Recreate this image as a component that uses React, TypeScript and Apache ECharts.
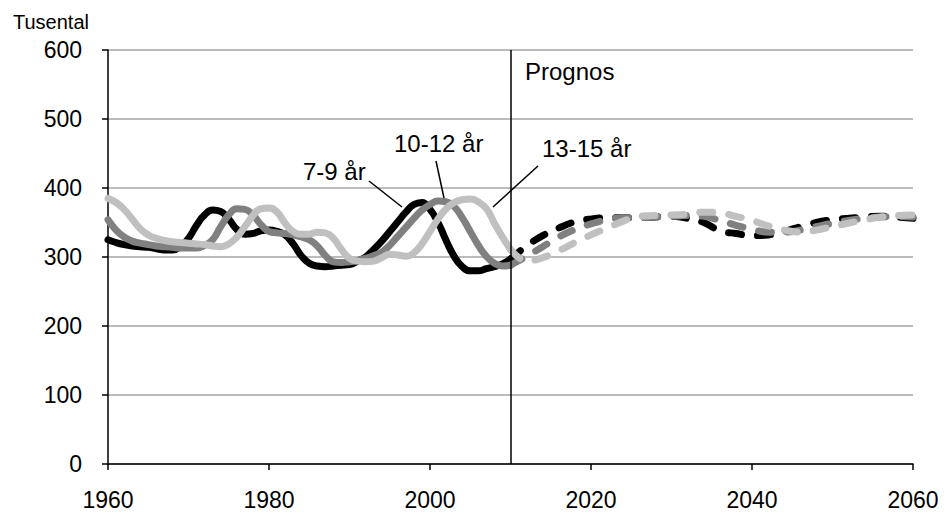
import React, { useEffect, useRef } from "react";
import * as echarts from "echarts";

const yearsSolid = [
  1960, 1961, 1962, 1963, 1964, 1965, 1966, 1967, 1968, 1969,
  1970, 1971, 1972, 1973, 1974, 1975, 1976, 1977, 1978, 1979,
  1980, 1981, 1982, 1983, 1984, 1985, 1986, 1987, 1988, 1989,
  1990, 1991, 1992, 1993, 1994, 1995, 1996, 1997, 1998, 1999,
  2000, 2001, 2002, 2003, 2004, 2005, 2006, 2007, 2008, 2009, 2010,
];
const yearsForecast = [
  2010, 2012, 2014, 2016, 2018, 2020, 2022, 2024, 2026, 2028,
  2030, 2032, 2034, 2036, 2038, 2040, 2042, 2044, 2046, 2048,
  2050, 2052, 2054, 2056, 2058, 2060,
];

const age7to9 = [
  325, 321, 318, 316, 315, 314, 312, 310, 310, 315,
  327, 346, 361, 368, 366, 355, 340, 333, 334, 338,
  339, 337, 332, 319, 302, 291, 287, 286, 287, 288,
  289, 294, 300, 311, 323, 337, 351, 365, 376, 379,
  369, 350, 324, 301, 286, 280, 280, 283, 286, 290, 297,
];
const age10to12 = [
  354, 339, 329, 323, 320, 318, 316, 315, 314, 313,
  313, 313, 317, 325, 344, 361, 370, 369, 361, 347,
  337, 335, 334, 332, 329, 325, 316, 302, 293, 292,
  293, 295, 298, 302, 307, 317, 330, 343, 356, 368,
  376, 381, 380, 373, 357, 337, 317, 301, 291, 287, 288,
];
const age13to15 = [
  385, 379, 369, 355, 341, 332, 327, 324, 322, 321,
  320, 319, 318, 316, 315, 319, 329, 344, 360, 370,
  371, 365, 349, 337, 333, 333, 336, 335, 327, 311,
  298, 294, 293, 294, 299, 304, 303, 301, 306, 319,
  337, 355, 370, 379, 383, 384, 380, 370, 349, 329, 311,
];

const age7to9Forecast = [
  297, 316, 331, 342, 351, 355, 357, 357, 357, 358,
  359, 356, 350, 338, 334, 331, 332, 337, 344, 350,
  354, 356, 358, 359, 358, 356,
];
const age10to12Forecast = [
  288, 301, 315, 329, 340, 348, 354, 357, 357, 358,
  359, 360, 359, 353, 346, 340, 336, 336, 339, 344,
  349, 353, 356, 358, 359, 358,
];
const age13to15Forecast = [
  311, 294, 299, 309, 321, 332, 342, 352, 359, 360,
  361, 362, 365, 364, 359, 353, 345, 339, 336, 339,
  344, 349, 354, 358, 360, 361,
];

const yTicks = [0, 100, 200, 300, 400, 500, 600];
const xTicks = [1960, 1980, 2000, 2020, 2040, 2060];

const seriesNames = ["7-9 år", "10-12 år", "13-15 år"];
const seriesColors = ["#000000", "#808080", "#c0c0c0"];

const FONT = "'Liberation Sans', Arial, sans-serif";

function pairs(xs: number[], ys: number[]) {
  return xs.map((x, i) => [x, ys[i]]);
}

export default function App() {
  const ref = useRef<HTMLDivElement>(null);

  useEffect(() => {
    if (!ref.current) return;
    const chart = echarts.init(ref.current, undefined, { renderer: "svg" });

    const solid = [age7to9, age10to12, age13to15];
    const forecast = [age7to9Forecast, age10to12Forecast, age13to15Forecast];

    const series: any[] = [];
    solid.forEach((vals, i) => {
      series.push({
        name: seriesNames[i],
        type: "line",
        data: pairs(yearsSolid, vals),
        showSymbol: false,
        smooth: 0.5,
        lineStyle: { color: seriesColors[i], width: 7, cap: "round", join: "round" },
        z: 2 + i,
        ...(i === 0
          ? {
              markLine: {
                silent: true,
                symbol: "none",
                label: { show: false },
                lineStyle: { color: "#000", width: 1.5, type: "solid" },
                data: [{ xAxis: 2010 }],
              },
            }
          : {}),
      });
    });
    forecast.forEach((vals, i) => {
      series.push({
        name: seriesNames[i] + " prognos",
        type: "line",
        data: pairs(yearsForecast, vals),
        showSymbol: false,
        smooth: 0.4,
        lineStyle: {
          color: seriesColors[i],
          width: 7,
          cap: "round",
          type: [13, 16],
        },
        z: 2 + i,
      });
    });

    chart.setOption({
      animation: false,
      backgroundColor: "#ffffff",
      grid: { left: 108, right: 36, top: 50, bottom: 52, containLabel: false },
      xAxis: {
        type: "value",
        min: xTicks[0],
        max: xTicks[xTicks.length - 1],
        interval: 20,
        axisLine: { show: true, lineStyle: { color: "#000", width: 1.5 } },
        axisTick: { show: true, length: 6, inside: false, lineStyle: { color: "#000", width: 1.5 } },
        axisLabel: {
          color: "#000",
          fontSize: 23,
          fontFamily: FONT,
          margin: 24,
          formatter: (v: number) => String(v),
        },
        splitLine: { show: false },
      },
      yAxis: {
        type: "value",
        min: yTicks[0],
        max: yTicks[yTicks.length - 1],
        interval: 100,
        axisLine: { show: true, lineStyle: { color: "#000", width: 1.5 } },
        axisTick: { show: true, length: 6, inside: false, lineStyle: { color: "#000", width: 1.5 } },
        axisLabel: { color: "#000", fontSize: 23, fontFamily: FONT, margin: 26 },
        splitLine: { show: true, lineStyle: { color: "#a6a6a6", width: 1.5 } },
      },
      series,
      graphic: [
        {
          type: "text",
          left: 13,
          top: 12,
          style: { text: "Tusental", fontSize: 20, fontFamily: FONT, fill: "#000" },
        },
        {
          type: "text",
          x: 525,
          y: 71,
          style: { text: "Prognos", fontSize: 24, fontFamily: FONT, fill: "#000", verticalAlign: "middle" },
        },
        {
          type: "text",
          x: 303,
          y: 171,
          style: { text: "7-9 år", fontSize: 24, fontFamily: FONT, fill: "#000", verticalAlign: "middle" },
        },
        {
          type: "text",
          x: 394,
          y: 143,
          style: { text: "10-12 år", fontSize: 24, fontFamily: FONT, fill: "#000", verticalAlign: "middle" },
        },
        {
          type: "text",
          x: 542,
          y: 148,
          style: { text: "13-15 år", fontSize: 24, fontFamily: FONT, fill: "#000", verticalAlign: "middle" },
        },
        {
          type: "line",
          shape: { x1: 369, y1: 181, x2: 402, y2: 207 },
          style: { stroke: "#000", lineWidth: 1.5 },
          z: 10,
        },
        {
          type: "line",
          shape: { x1: 436, y1: 161, x2: 444, y2: 198 },
          style: { stroke: "#000", lineWidth: 1.5 },
          z: 10,
        },
        {
          type: "line",
          shape: { x1: 538, y1: 166, x2: 493, y2: 207 },
          style: { stroke: "#000", lineWidth: 1.5 },
          z: 10,
        },
      ],
    });

    return () => chart.dispose();
  }, []);

  return <div ref={ref} style={{ width: 949, height: 516, position: "absolute", left: 0, top: 0 }} />;
}
